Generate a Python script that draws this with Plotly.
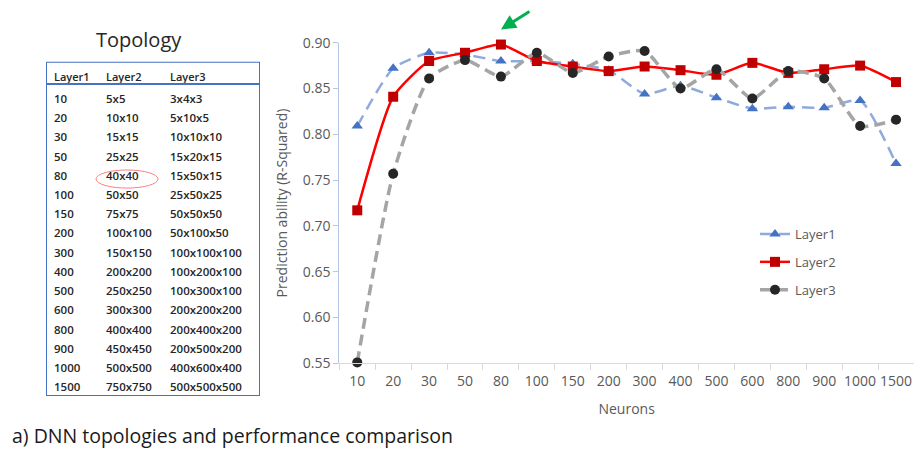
import plotly.graph_objects as go

# ---------------- data ----------------
neurons = ["10", "20", "30", "50", "80", "100", "150", "200", "300", "400",
           "500", "600", "800", "900", "1000", "1500"]
layer1_r2 = [0.809, 0.872, 0.889, 0.887, 0.880, 0.880, 0.877, 0.870, 0.844, 0.853,
             0.840, 0.828, 0.830, 0.829, 0.837, 0.768]
layer2_r2 = [0.717, 0.841, 0.880, 0.889, 0.898, 0.880, 0.874, 0.869, 0.874, 0.870,
             0.865, 0.878, 0.867, 0.871, 0.875, 0.857]
layer3_r2 = [0.551, 0.757, 0.861, 0.881, 0.863, 0.889, 0.867, 0.885, 0.891, 0.850,
             0.871, 0.839, 0.869, 0.861, 0.809, 0.816]

table_headers = ["Layer1", "Layer2", "Layer3"]
topo_layer1 = ["10", "20", "30", "50", "80", "100", "150", "200", "300", "400",
               "500", "600", "800", "900", "1000", "1500"]
topo_layer2 = ["5x5", "10x10", "15x15", "25x25", "40x40", "50x50", "75x75", "100x100",
               "150x150", "200x200", "250x250", "300x300", "400x400", "450x450",
               "500x500", "750x750"]
topo_layer3 = ["3x4x3", "5x10x5", "10x10x10", "15x20x15", "15x50x15", "25x50x25",
               "50x50x50", "50x100x50", "100x100x100", "100x200x100", "100x300x100",
               "200x200x200", "200x400x200", "200x500x200", "400x600x400", "500x500x500"]
yticks = [0.55, 0.60, 0.65, 0.70, 0.75, 0.80, 0.85, 0.90]

# ---------------- layout helpers ----------------
W, H = 914, 449
FONT = "Open Sans"
GRAY = "#595959"
SMOOTH = 0.55


def px(x):
    return x / W


def py(y):
    return (H - y) / H


fig = go.Figure()

# ---------------- main chart ----------------
fig.add_trace(go.Scatter(
    x=neurons, y=layer1_r2, name="Layer1", legendgroup="g1",
    mode="lines+markers",
    line=dict(color="#8faadc", width=2.5, dash="12px,7px", shape="spline", smoothing=SMOOTH),
    marker=dict(symbol="triangle-up", size=10, color="#4472c4"),
    cliponaxis=False, xaxis="x", yaxis="y"))
fig.add_trace(go.Scatter(
    x=neurons, y=layer2_r2, name="Layer2", legendgroup="g2",
    mode="lines+markers",
    line=dict(color="#ff0000", width=2.5, shape="spline", smoothing=SMOOTH),
    marker=dict(symbol="square", size=10, color="#c00000"),
    cliponaxis=False, xaxis="x", yaxis="y"))
fig.add_trace(go.Scatter(
    x=neurons, y=layer3_r2, name="Layer3", legendgroup="g3",
    mode="lines+markers",
    line=dict(color="#a5a5a5", width=3.5, dash="11px,6px", shape="spline", smoothing=SMOOTH),
    marker=dict(symbol="circle", size=10, color="#262626"),
    cliponaxis=False, xaxis="x", yaxis="y"))

# ---------------- topology table (hidden axes) ----------------
col_offsets = [8, 60, 124]
rows = list(range(len(topo_layer1)))
for vals, xo in zip([topo_layer1, topo_layer2, topo_layer3], col_offsets):
    fig.add_trace(go.Scatter(
        x=[xo] * len(vals), y=rows, text=vals, mode="text",
        textposition="middle right",
        textfont=dict(family=FONT, size=11.5, color="#262626", weight=600),
        showlegend=False, hoverinfo="skip", xaxis="x2", yaxis="y2"))
fig.add_trace(go.Scatter(
    x=col_offsets, y=[-1.14] * 3, text=table_headers, mode="text",
    textposition="middle right",
    textfont=dict(family=FONT, size=11, color="#262626", weight=600),
    showlegend=False, hoverinfo="skip", xaxis="x2", yaxis="y2"))

fig.update_layout(
    width=W, height=H,
    margin=dict(l=0, r=0, t=0, b=0, autoexpand=False),
    paper_bgcolor="white", plot_bgcolor="white",
    font=dict(family=FONT, color=GRAY, size=14),
    xaxis=dict(
        domain=[px(339.3), 1.0], type="category", range=[-0.5, 15.5],
        showline=True, linecolor="#d9d9d9", linewidth=1,
        ticks="outside", tickson="boundaries", ticklen=6, tickcolor="#d9d9d9",
        tickangle=0, automargin=False, ticklabelstandoff=5,
        tickfont=dict(size=14, color=GRAY), showgrid=False, zeroline=False,
        title=dict(text="Neurons", font=dict(size=14, color=GRAY), standoff=15),
        anchor="y"),
    yaxis=dict(
        domain=[py(363.3), py(42.7)], range=[0.55, 0.90],
        tickvals=yticks, tickformat=".2f", automargin=False,
        showline=True, linecolor="#b4c7e7", linewidth=1,
        ticks="outside", ticklen=5, tickcolor="#b4c7e7",
        tickfont=dict(size=14, color=GRAY), showgrid=False, zeroline=False,
        title=dict(text="Prediction ability (R-Squared)", font=dict(size=14, color=GRAY), standoff=11),
        anchor="x"),
    xaxis2=dict(domain=[px(46), px(260)], range=[0, 214], visible=False,
                fixedrange=True, anchor="y2"),
    yaxis2=dict(domain=[py(396), py(61.7)], range=[15.39, -1.99], visible=False,
                fixedrange=True, anchor="x2"),
    legend=dict(
        x=px(755), y=py(219), xanchor="left", yanchor="top",
        bgcolor="rgba(0,0,0,0)", font=dict(size=13, color=GRAY),
        tracegroupgap=8, traceorder="grouped"),
    shapes=[
        dict(type="rect", xref="x2", yref="y2", x0=0, x1=214, y0=-1.99, y1=15.39,
             line=dict(color="#4472c4", width=2)),
        dict(type="line", xref="x2", yref="y2", x0=0, x1=214, y0=-0.83, y1=-0.83,
             line=dict(color="#4472c4", width=2)),
        dict(type="circle", xref="x2", yref="y2", x0=50, x1=112, y0=3.64, y1=4.58,
             line=dict(color="#ff8080", width=1)),
    ],
    annotations=[
        dict(text="Topology", xref="paper", yref="paper", x=px(139), y=py(40),
             xanchor="center", yanchor="middle", showarrow=False,
             font=dict(size=20, color="#262626")),
        dict(text="a) DNN topologies and performance comparison", xref="paper", yref="paper",
             x=px(10), y=py(435), xanchor="left", yanchor="middle", showarrow=False,
             font=dict(size=19.5, color="#1a1a1a")),
        dict(text="", xref="x", yref="paper", x=4, y=py(29.5), showarrow=True,
             ax=30, ay=-19, arrowhead=2, arrowsize=1, arrowwidth=3,
             arrowcolor="#00b050", standoff=0),
    ],
)

fig.write_html("out.html")
